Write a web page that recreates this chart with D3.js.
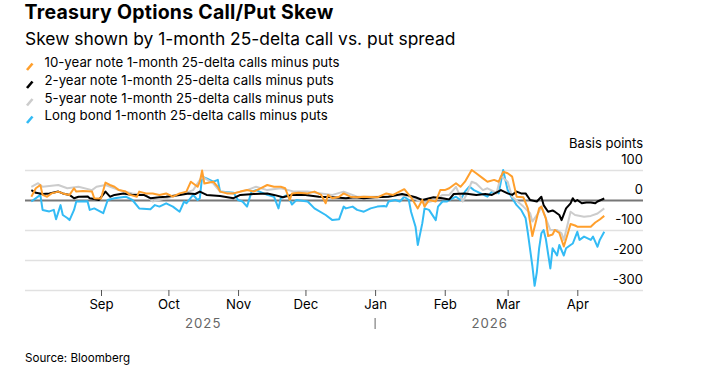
<!DOCTYPE html>
<html><head><meta charset="utf-8">
<script src="https://cdn.jsdelivr.net/npm/d3@7"></script>
<style>
body{margin:0;background:#fff;}
svg text{font-family:Inter,"Liberation Sans",Arial,sans-serif;}
</style></head><body>
<svg id="c" width="709" height="371"></svg>
<script>
const titleText = "Treasury Options Call/Put Skew";
const subtitleText = "Skew shown by 1-month 25-delta call vs. put spread";
const sourceText = "Source: Bloomberg";
const unitLabel = "Basis points";
const seriesNames = [
  "10-year note 1-month 25-delta calls minus puts",
  "2-year note 1-month 25-delta calls minus puts",
  "5-year note 1-month 25-delta calls minus puts",
  "Long bond 1-month 25-delta calls minus puts"
];
const yTicks = [100, 0, -100, -200, -300];
const monthTicks = ["2025-09-01","2025-10-01","2025-11-01","2025-12-01","2026-01-01","2026-02-01","2026-03-01","2026-04-01"];
const yearLabels = ["2025","2026"];

const tenYear = [["2025-08-01",11],["2025-08-03",39],["2025-08-05",50],["2025-08-06",17],["2025-08-08",11],["2025-08-10",22],["2025-08-13",28],["2025-08-15",22],["2025-08-18",17],["2025-08-20",39],["2025-08-21",28],["2025-08-24",30],["2025-08-28",28],["2025-08-29",6],["2025-09-01",5],["2025-09-03",58],["2025-09-05",50],["2025-09-07",44],["2025-09-09",33],["2025-09-12",28],["2025-09-14",17],["2025-09-17",11],["2025-09-18",28],["2025-09-21",22],["2025-09-24",22],["2025-09-27",17],["2025-09-30",22],["2025-10-03",11],["2025-10-06",22],["2025-10-09",28],["2025-10-11",61],["2025-10-14",44],["2025-10-15",61],["2025-10-16",98],["2025-10-17",55],["2025-10-21",61],["2025-10-23",44],["2025-10-24",28],["2025-10-27",22],["2025-10-30",22],["2025-11-02",28],["2025-11-05",33],["2025-11-08",28],["2025-11-11",39],["2025-11-14",50],["2025-11-17",44],["2025-11-20",44],["2025-11-22",39],["2025-11-24",0],["2025-11-25",22],["2025-11-28",24],["2025-12-02",22],["2025-12-05",28],["2025-12-08",17],["2025-12-10",-11],["2025-12-11",17],["2025-12-13",6],["2025-12-16",11],["2025-12-18",22],["2025-12-21",11],["2025-12-24",9],["2025-12-27",11],["2026-01-02",9],["2026-01-06",22],["2026-01-09",17],["2026-01-14",36],["2026-01-17",9],["2026-01-20",-28],["2026-01-22",0],["2026-01-23",-22],["2026-01-25",0],["2026-01-28",-5],["2026-01-30",33],["2026-02-01",33],["2026-02-03",39],["2026-02-06",56],["2026-02-08",44],["2026-02-10",61],["2026-02-13",100],["2026-02-15",89],["2026-02-18",72],["2026-02-20",61],["2026-02-23",67],["2026-02-25",61],["2026-02-27",94],["2026-03-01",89],["2026-03-03",78],["2026-03-05",11],["2026-03-08",9],["2026-03-10",-28],["2026-03-12",-120],["2026-03-15",-28],["2026-03-16",-22],["2026-03-18",-61],["2026-03-19",-120],["2026-03-21",-115],["2026-03-22",-100],["2026-03-24",-110],["2026-03-26",-155],["2026-03-28",-106],["2026-03-29",-80],["2026-03-31",-85],["2026-04-01",-89],["2026-04-04",-89],["2026-04-07",-89],["2026-04-09",-75],["2026-04-11",-65],["2026-04-13",-53]];

const twoYear = [["2025-08-01",33],["2025-08-03",24],["2025-08-06",20],["2025-08-09",22],["2025-08-13",28],["2025-08-15",22],["2025-08-18",17],["2025-08-20",6],["2025-08-22",11],["2025-08-26",12],["2025-08-27",6],["2025-08-29",3],["2025-08-31",0],["2025-09-03",28],["2025-09-05",11],["2025-09-07",17],["2025-09-11",22],["2025-09-15",17],["2025-09-20",17],["2025-09-23",6],["2025-09-27",9],["2025-09-30",11],["2025-10-06",17],["2025-10-10",22],["2025-10-13",20],["2025-10-15",28],["2025-10-18",17],["2025-10-24",13],["2025-10-30",6],["2025-11-02",17],["2025-11-08",20],["2025-11-14",22],["2025-11-17",17],["2025-11-21",9],["2025-11-25",17],["2025-12-01",17],["2025-12-07",11],["2025-12-13",9],["2025-12-19",6],["2025-12-23",9],["2025-12-27",6],["2026-01-01",9],["2026-01-07",11],["2026-01-13",20],["2026-01-15",17],["2026-01-19",9],["2026-01-22",0],["2026-01-27",9],["2026-01-31",6],["2026-02-03",2],["2026-02-05",20],["2026-02-10",22],["2026-02-15",17],["2026-02-19",20],["2026-02-22",17],["2026-02-26",33],["2026-03-01",22],["2026-03-03",17],["2026-03-05",28],["2026-03-07",22],["2026-03-09",22],["2026-03-11",0],["2026-03-14",-5],["2026-03-16",11],["2026-03-17",-17],["2026-03-19",-39],["2026-03-21",-35],["2026-03-22",-39],["2026-03-24",-50],["2026-03-25",-67],["2026-03-27",-28],["2026-03-29",-11],["2026-03-30",6],["2026-03-31",-5],["2026-04-01",0],["2026-04-03",-11],["2026-04-05",-8],["2026-04-07",-8],["2026-04-09",-11],["2026-04-10",-5],["2026-04-13",5]];

const fiveYear = [["2025-08-01",44],["2025-08-04",56],["2025-08-06",44],["2025-08-13",50],["2025-08-17",39],["2025-08-22",44],["2025-08-28",33],["2025-08-30",44],["2025-09-03",50],["2025-09-09",33],["2025-09-15",22],["2025-09-21",17],["2025-09-24",-5],["2025-09-30",6],["2025-10-06",17],["2025-10-12",33],["2025-10-16",78],["2025-10-21",55],["2025-10-24",28],["2025-10-30",22],["2025-11-05",33],["2025-11-09",44],["2025-11-14",33],["2025-11-20",39],["2025-11-26",28],["2025-12-02",28],["2025-12-08",22],["2025-12-13",17],["2025-12-18",28],["2025-12-24",11],["2026-01-04",11],["2026-01-12",17],["2026-01-17",11],["2026-01-20",0],["2026-01-23",-11],["2026-01-28",0],["2026-01-31",17],["2026-02-03",17],["2026-02-06",44],["2026-02-09",-5],["2026-02-11",22],["2026-02-13",61],["2026-02-15",55],["2026-02-18",33],["2026-02-20",39],["2026-02-23",28],["2026-02-24",22],["2026-02-26",80],["2026-03-01",61],["2026-03-03",11],["2026-03-08",-22],["2026-03-11",-44],["2026-03-12",-72],["2026-03-15",-39],["2026-03-16",-22],["2026-03-18",-61],["2026-03-20",-100],["2026-03-23",-100],["2026-03-25",-111],["2026-03-26",-133],["2026-03-28",-72],["2026-03-29",-39],["2026-03-31",-50],["2026-04-04",-56],["2026-04-07",-53],["2026-04-10",-45],["2026-04-13",-28]];

const longBond = [["2025-08-01",-5],["2025-08-05",17],["2025-08-06",-33],["2025-08-09",-38],["2025-08-11",-33],["2025-08-12",-64],["2025-08-14",-17],["2025-08-15",-50],["2025-08-17",-60],["2025-08-18",-67],["2025-08-20",-33],["2025-08-21",-5],["2025-08-26",-4],["2025-08-27",-33],["2025-08-29",-28],["2025-09-02",-44],["2025-09-04",0],["2025-09-07",6],["2025-09-12",11],["2025-09-15",0],["2025-09-18",-28],["2025-09-23",-31],["2025-09-25",-17],["2025-09-27",-22],["2025-09-30",-11],["2025-10-03",-22],["2025-10-06",-39],["2025-10-08",-5],["2025-10-09",-11],["2025-10-12",17],["2025-10-14",0],["2025-10-15",6],["2025-10-16",78],["2025-10-18",72],["2025-10-21",61],["2025-10-23",67],["2025-10-24",28],["2025-10-30",24],["2025-11-01",0],["2025-11-03",-5],["2025-11-05",-22],["2025-11-07",28],["2025-11-09",33],["2025-11-14",17],["2025-11-17",11],["2025-11-19",-28],["2025-11-20",6],["2025-11-23",17],["2025-11-25",-15],["2025-11-27",0],["2025-12-02",-5],["2025-12-05",-28],["2025-12-10",-50],["2025-12-13",-67],["2025-12-16",-64],["2025-12-18",-22],["2025-12-19",-28],["2025-12-22",-22],["2025-12-24",-33],["2025-12-27",-39],["2025-12-30",-28],["2026-01-02",-22],["2026-01-05",-20],["2026-01-06",-22],["2026-01-07",-5],["2026-01-10",0],["2026-01-12",-5],["2026-01-14",11],["2026-01-16",0],["2026-01-17",-39],["2026-01-19",-89],["2026-01-20",-150],["2026-01-22",-78],["2026-01-23",-28],["2026-01-25",-33],["2026-01-28",-67],["2026-01-29",-22],["2026-01-31",-5],["2026-02-02",-5],["2026-02-03",0],["2026-02-06",11],["2026-02-08",0],["2026-02-10",28],["2026-02-12",45],["2026-02-14",33],["2026-02-17",22],["2026-02-20",11],["2026-02-22",28],["2026-02-25",22],["2026-02-27",100],["2026-03-01",33],["2026-03-03",6],["2026-03-05",-17],["2026-03-07",-33],["2026-03-09",-61],["2026-03-10",-110],["2026-03-12",-220],["2026-03-13",-286],["2026-03-14",-240],["2026-03-15",-161],["2026-03-16",-111],["2026-03-17",-100],["2026-03-18",-130],["2026-03-20",-228],["2026-03-21",-161],["2026-03-23",-185],["2026-03-24",-150],["2026-03-26",-185],["2026-03-27",-161],["2026-03-29",-150],["2026-03-30",-145],["2026-04-01",-106],["2026-04-02",-133],["2026-04-04",-122],["2026-04-07",-133],["2026-04-08",-122],["2026-04-10",-156],["2026-04-11",-133],["2026-04-13",-106]];

const seriesColors = ["#ff9f2c", "#000000", "#cccccc", "#33bbf5"];

const parse = d3.utcParse("%Y-%m-%d");
const series = [tenYear, twoYear, fiveYear, longBond].map((arr, i) => ({
  name: seriesNames[i], color: seriesColors[i],
  values: arr.map(([d, v]) => ({date: parse(d), value: v}))
}));

const svg = d3.select("#c");
const left = 25, right = 643;
const FONT = 'Inter,"Liberation Sans",Arial,sans-serif';

const x = d3.scaleUtc()
  .domain([parse("2025-09-01"), parse("2026-04-01")])
  .range([101, 577.3]);
const y = d3.scaleLinear().domain([-300, 100]).range([290, 170]);

// title
svg.append("text").attr("x", left - 0.5).attr("y", 18.5)
  .attr("font-size", 19.5).attr("font-weight", "bold").attr("letter-spacing", 0.25).attr("fill", "#000").text(titleText);
svg.append("text").attr("x", left).attr("y", 45)
  .attr("font-size", 17.4).attr("fill", "#000").text(subtitleText);

// legend
const legendBase = [67, 85, 102.5, 120];
series.forEach((s, i) => {
  const b = legendBase[i];
  svg.append("line").attr("x1", 27).attr("y1", b + 3).attr("x2", 32.5).attr("y2", b - 3.5)
    .attr("stroke", s.color).attr("stroke-width", 2.6);
  svg.append("text").attr("x", 44.5).attr("y", b).attr("font-size", 13.25).attr("fill", "#000").text(s.name);
});

// y axis with gridlines
const yAxis = svg.append("g").attr("transform", `translate(${right},0)`)
  .call(d3.axisLeft(y).tickValues(yTicks).tickSize(right - left).tickFormat(d => d));
yAxis.select(".domain").remove();
yAxis.selectAll(".tick line")
  .attr("stroke", d => d === 0 ? "#777777" : "#e1e1e1")
  .attr("stroke-width", d => d === 0 ? 2 : 1.3);
yAxis.selectAll(".tick text")
  .attr("x", 0).attr("dy", null).attr("y", -7)
  .attr("text-anchor", "end").attr("font-size", 13).attr("fill", "#000")
  .style("font-family", FONT);
svg.append("text").attr("x", right).attr("y", 147.5).attr("text-anchor", "end")
  .attr("font-size", 13).attr("fill", "#000").text(unitLabel);

// x axis
const xAxis = svg.append("g").attr("transform", `translate(0,${y(-300)})`)
  .call(d3.axisBottom(x).tickValues(monthTicks.map(parse)).tickSize(6).tickPadding(4)
    .tickFormat(d3.utcFormat("%b")));
xAxis.select(".domain").remove();
xAxis.selectAll(".tick line").attr("stroke", "#555").attr("stroke-width", 1);
xAxis.selectAll(".tick text").attr("font-size", 13.2).attr("fill", "#000")
  .style("font-family", FONT);

// year labels
const firstDate = series[0].values[0].date;
const lastDate = series[0].values[series[0].values.length - 1].date;
const jan1 = parse("2026-01-01");
const yearCenters = [(x(firstDate) + x(jan1)) / 2, (x(jan1) + x(lastDate)) / 2];
yearLabels.forEach((t, i) => {
  svg.append("text").attr("x", yearCenters[i]).attr("y", 327.5).attr("text-anchor", "middle")
    .attr("font-size", 13.2).attr("letter-spacing", 1).attr("fill", "#666").text(t);
});
svg.append("line").attr("x1", x(jan1)).attr("x2", x(jan1)).attr("y1", 318).attr("y2", 329)
  .attr("stroke", "#666").attr("stroke-width", 1);

// lines
const line = d3.line().x(d => x(d.date)).y(d => y(d.value));
[3, 2, 1, 0].forEach(i => {
  svg.append("path").datum(series[i].values)
    .attr("d", line).attr("fill", "none")
    .attr("stroke", series[i].color).attr("stroke-width", 2)
    .attr("stroke-linejoin", "round");
});

// source
svg.append("text").attr("x", left).attr("y", 362).attr("font-size", 11.6).attr("fill", "#000").text(sourceText);
</script>
</body></html>
